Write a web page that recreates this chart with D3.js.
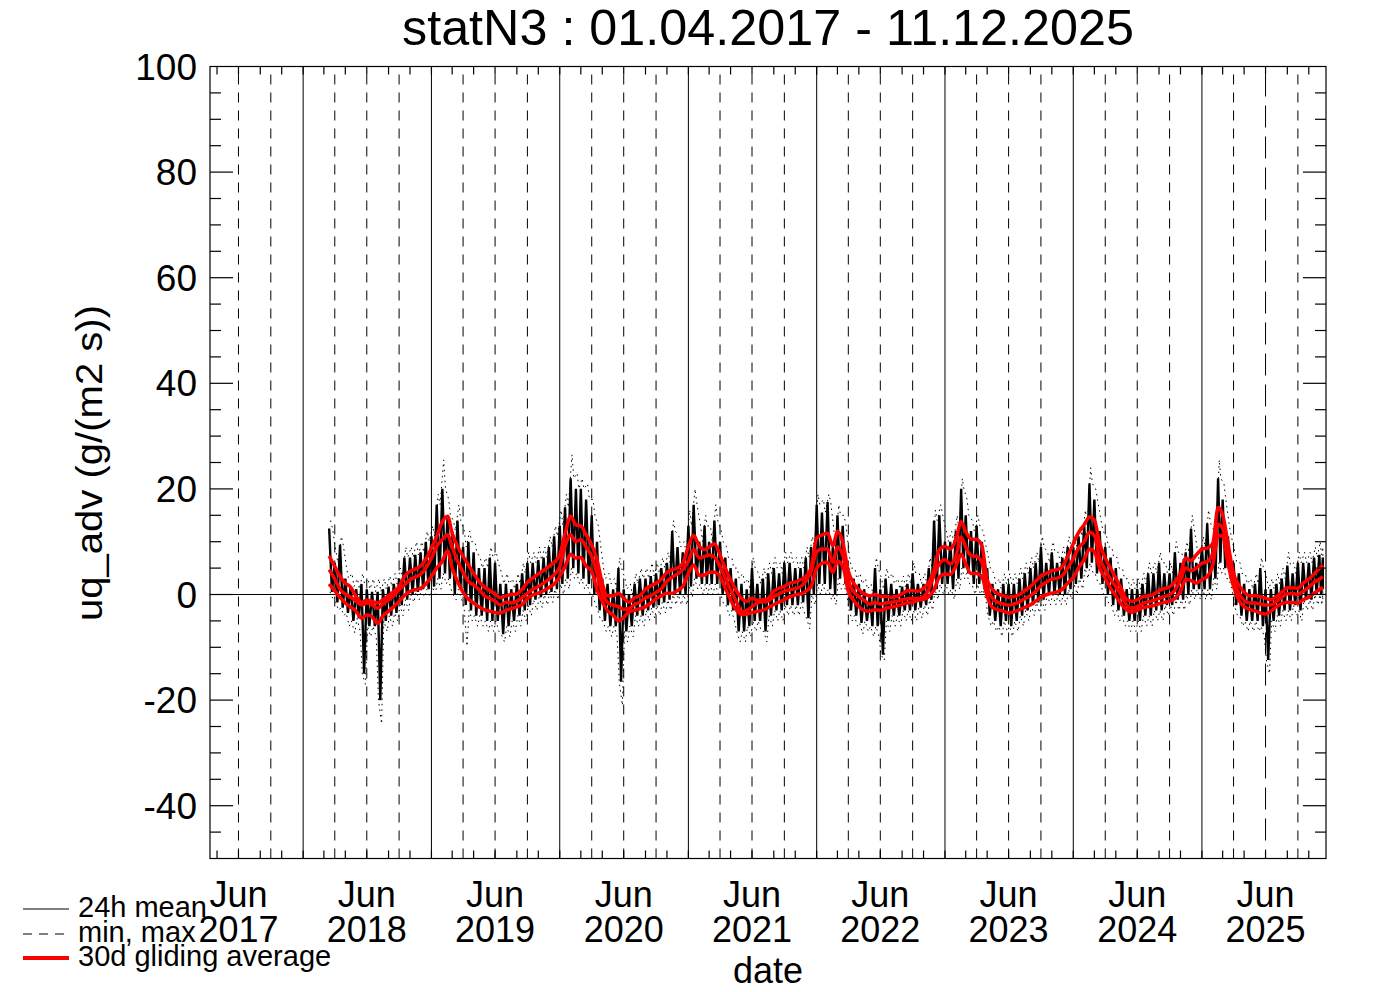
<!DOCTYPE html>
<html><head><meta charset="utf-8">
<script src="https://cdn.jsdelivr.net/npm/d3@7"></script>
<style>
body{margin:0;background:#fff}
svg{display:block}
text{font-family:"Liberation Sans",Arial,Helvetica,sans-serif;fill:#000}
</style>
</head><body>
<svg id="chart" width="1388" height="992"></svg>
<script>
// ---------------- data ----------------
const titleText = "statN3 : 01.04.2017 - 11.12.2025";
const yAxisLabel = "uq_adv (g/(m2 s))";
const xAxisLabel = "date";
const legendLabels = ["24h mean", "min, max", "30d gliding average"];
const labelYears = [2017, 2018, 2019, 2020, 2021, 2022, 2023, 2024, 2025];
const labelMonth = "Jun";
const yTickValues = [-40, -20, 0, 20, 40, 60, 80, 100];

// semi-monthly sampling dates: 2018-03-16, then 1st and 16th of each month, ending 2025-12-11
const sampleDates = (() => {
  const out = [new Date(Date.UTC(2018, 2, 16))];
  for (let yr = 2018; yr <= 2025; yr++) {
    for (let m = 0; m < 12; m++) {
      if (yr === 2018 && m < 3) continue;
      if (yr === 2025 && m === 11) { out.push(new Date(Date.UTC(2025, 11, 1)), new Date(Date.UTC(2025, 11, 11))); break; }
      out.push(new Date(Date.UTC(yr, m, 1)), new Date(Date.UTC(yr, m, 16)));
    }
  }
  return out;
})();

// 30d gliding average of daily max
const avgMax = [
  7.3,5.3,3.4,2.15,1.4,-0.4,-1.5,-1.1,-1.3,-1.6,-1.0,-0.25,0.6,1.5,3.4,4.4,4.8,5.4,6.7,
  8.8,11.0,13.8,14.8,11.6,9.2,7.2,5.6,4.0,2.5,1.4,0.76,0.1,-0.6,-0.25,0.0,0.1,1.0,2.3,3.1,3.9,4.55,5.3,6.1,
  7.5,11.5,14.8,13.2,13.0,11.3,9.4,6.6,2.15,-0.25,-0.25,0.25,-0.7,-1.45,-0.6,-0.25,1.0,1.65,2.15,2.9,4.2,4.7,5.0,5.9,
  9.1,11.2,9.1,8.5,9.0,9.6,7.5,5.0,2.8,0.9,-0.7,-1.3,-0.7,-1.1,-1.0,-0.75,0.6,1.2,1.5,2.15,2.35,2.8,3.4,5.0,
  10.7,11.3,11.6,9.2,12.0,10.0,4.4,2.15,0.9,0.13,-0.25,0.0,-0.4,-0.4,-0.5,-0.4,0.13,0.7,0.76,0.6,1.2,2.3,4.7,8.5,
  9.1,8.6,10.4,13.8,11.9,10.5,10.4,9.2,2.8,1.0,0.13,-0.25,-0.5,-0.4,0.0,0.76,1.5,2.5,3.5,4.0,4.5,4.7,5.3,7.2,
  9.6,11.7,13.2,14.7,14.1,9.7,6.9,5.0,3.1,1.2,-0.9,-1.3,-1.0,-0.45,-0.25,0.0,0.76,1.1,1.45,2.4,4.0,6.9,6.4,7.5,
  8.6,8.8,9.7,16.5,15.1,9.7,4.0,1.8,0.5,-0.25,-0.25,-0.4,-0.7,-1.0,-0.4,0.4,1.3,1.3,1.2,2.15,2.9,3.9,4.9,5.6
];
// 30d gliding average of 24h mean
const avgMean = [
  4.7,2.9,1.0,0.07,-0.5,-1.3,-2.0,-1.6,-1.95,-2.6,-1.8,-1.0,-0.25,0.9,1.8,2.8,3.3,3.8,5.0,
  6.9,9.1,10.4,11.3,9.0,6.4,4.2,2.5,1.8,1.0,-0.25,-0.75,-1.25,-2.0,-1.45,-1.6,-1.3,-0.6,0.25,1.0,1.5,2.15,2.9,3.7,
  5.3,9.1,11.3,10.0,10.4,9.0,7.2,4.0,0.25,-1.5,-2.0,-2.3,-2.8,-2.65,-1.9,-1.4,-0.6,-0.25,0.4,1.1,2.5,3.3,3.9,4.7,
  6.3,8.5,6.9,7.2,7.5,7.1,5.3,3.1,0.9,-1.1,-3.2,-3.0,-2.3,-1.6,-1.4,-1.25,-0.4,0.13,0.6,0.9,1.1,1.5,2.5,4.4,
  8.1,8.6,8.6,6.1,9.0,7.5,2.5,0.6,-0.4,-1.1,-1.8,-1.5,-1.8,-1.6,-1.5,-1.3,-1.0,-0.8,-0.75,-0.8,-0.4,1.0,3.7,5.8,
  6.6,5.8,7.2,10.9,9.0,7.4,7.2,6.1,1.2,-0.7,-1.5,-1.8,-2.0,-1.8,-1.4,-0.75,-0.25,0.6,1.65,2.3,2.9,3.1,3.6,5.0,
  6.8,8.8,10.0,11.8,11.2,6.9,4.7,2.9,1.5,-0.1,-2.0,-2.6,-2.3,-1.7,-1.4,-1.1,-0.75,-0.4,-0.05,0.8,2.8,5.0,4.5,5.0,
  5.9,6.2,7.8,13.3,12.6,7.2,2.8,0.25,-1.1,-1.6,-1.6,-1.8,-2.0,-2.0,-1.3,-0.55,0.13,0.2,0.0,0.6,1.4,2.3,2.9,3.4
];
// 30d gliding average of daily min
const avgMin = [
  2.0,0.7,-0.55,-1.6,-2.4,-3.2,-4.5,-3.9,-4.2,-5.5,-4.0,-3.15,-2.3,-1.3,-0.2,0.6,0.9,1.15,2.0,
  3.4,5.0,6.3,8.3,5.0,2.5,0.4,-0.9,-1.6,-2.3,-2.9,-3.15,-3.4,-3.5,-3.0,-2.7,-2.3,-1.9,-0.75,-0.1,0.25,0.7,1.3,2.0,
  3.4,5.3,7.6,6.9,7.0,5.4,4.4,0.9,-1.3,-3.1,-3.9,-5.0,-4.35,-3.3,-3.0,-2.7,-2.3,-1.6,-0.8,-0.25,0.25,0.25,0.76,1.5,
  4.0,5.6,3.6,3.7,4.2,4.2,3.4,1.2,-1.0,-2.8,-3.8,-3.7,-3.4,-3.2,-3.0,-2.5,-1.9,-1.45,-1.0,-0.45,-0.1,0.13,0.6,1.5,
  5.0,5.9,6.1,4.2,6.3,5.4,0.6,-1.1,-2.3,-3.0,-3.15,-2.9,-3.0,-2.65,-2.4,-2.2,-1.9,-1.6,-1.5,-1.1,-0.9,-0.4,0.9,3.3,
  3.9,3.8,5.4,7.6,5.8,4.0,4.0,3.4,-0.4,-2.45,-2.9,-3.15,-3.5,-3.3,-2.9,-2.45,-1.95,-1.25,-0.5,-0.05,0.25,0.5,1.0,2.15,
  3.2,5.05,6.6,8.6,8.1,5.0,3.1,1.2,-0.25,-1.8,-2.9,-3.35,-3.0,-2.5,-2.3,-2.1,-1.75,-1.5,-1.25,-0.75,0.6,2.9,2.65,2.2,
  2.8,3.4,5.6,11.2,11.0,5.9,1.5,-1.1,-2.3,-2.8,-3.1,-3.5,-3.7,-3.15,-2.3,-1.75,-1.45,-1.5,-1.65,-1.0,-0.5,0.25,0.9,1.4
];
// 24h mean: highest and lowest daily value within each half month
const meanHigh = [
  12.5,6,9.4,3,1.5,1,2,1,0.5,0.5,1,1.5,2,3,7,7,7.5,8,10,
  11,17,20,15,12,14,9,10,8,5,5,7,6,2,2,1,2,4,6,6,6.5,7,9,11,
  13,16.5,22,20,20,18,15,10,3,2,1,5,1,0,2,3,3,3.5,4,5,6,12,9,8,
  13,17,10,13,10,14,10,7,5,3,2,1,5,2,3,4,5,4,6,6,5,5,7,9,
  17,15.5,17.5,9,15,13,5,3,2,1,0,5,1,3,2,1,1.5,2,4,2,2,5,14,15,
  10,10,12,20,15,12,13,10,5,2,1,2,2,2,3,4,5,6,9,6,8,6,7,9,
  9,11,13,21,18,12,9,7,5,3,1,1,1,2,4,4,6,4,4,8,6,8,12.5,6,
  9,13.5,10,22,18,11,6,4,2,1,2,5,1,1,2,3,5.5,4,6,6,6,7,7.5,7
];
const meanLow = [
  0.5,-1.5,-2.5,-3.5,-5,-4.5,-15,-6,-6,-20,-5,-4,-3.5,-2,-1,0,0.5,1,1,
  1.5,3,4,3,0,1,-2,-3,-4,-4,-5,-5,-5,-7.5,-6,-5,-4,-3,-2,-1,-0.5,0,0.5,1,
  2,3,5,4,3,2,0,-3,-5,-6,-6,-16.5,-7,-6,-4,-4,-3,-2.5,-2,-1.5,-1,0,0,0,
  1.5,3,2,2,2,2,0,-2,-3,-7,-7,-6,-5,-5,-7,-4,-3,-3,-2,-2,-2,-1.5,-4.5,0,
  2,2,1,0,3,2,-3,-4,-5.4,-5,-6,-6,-11.4,-5,-4,-4,-3,-3,-3,-2.5,-2,-1,1,2,
  2,1,3,5,4,2,2,1,-4,-5,-6,-5,-6,-5,-4,-3,-2,-1.5,-1,0,0,0,0,1,
  2,3,5,6,4,2,0,-2,-3,-4,-5,-5,-5,-4,-4,-3,-3,-2,-2,-1,-1,0,1,1,
  1,1,3,6,5,3,-2,-4,-5,-5,-5,-6,-12.4,-5,-4,-3,-3,-2,-3,-1,-1,0,0,1
];
// daily max: highest value within each half month
const maxTop = [
  14,8,11,5,4,3,4,3,3,3,3,3.5,4,5,9,9,10,10,12,
  13,19,25.5,18,14,17,12,12,10,7,7,9,8,4,4,3,4,6,8,8,9,9,11,13,
  16,19,26.5,23,22,21,18,13,5,4,3,7,3,2,4,5,5,6,6,7,8,14,11,10,
  16,20,13,15,13,17,12,9,7,5,4,3,7,4,5,6,7,6,8,8,7,7,9,11,
  19,18,19,12,17,15,7,5,4,3,2,7,3,5,4,3,3.5,4,6,4,4,7,16,17,
  12,12,15,22,18,14,15,12,7,4,3,4,4,4,5,6,7,8,11,8,10,8,9,11,
  11,13,16,24,20,14,11,9,7,5,3,3,3,4,6,6,8,6,6,10,8,10,15,8,
  11,16,12,25.5,21,13,8,6,4,3,4,7,3,3,4,5,8,6,8,8,8,9,10,9
];
// daily min: lowest value within each half month
const minBottom = [
  -1,-3,-4,-6,-7.3,-7,-17,-8,-8,-24.5,-7,-6,-5,-4,-3,-1.5,-1,-0.5,-0.5,
  0,1,2,1,-1,-1,-9.8,-5,-6,-6,-7,-7,-7,-9,-8,-7,-6,-5,-4,-3,-2.5,-2,-1.5,-1,
  0,1,3,2,1,0,-2,-5,-7,-8,-8,-21,-9,-8,-6,-6,-5,-4.5,-4,-3.5,-3,-2,-2,-2,
  -0.5,1,0,0,0,0,-2,-4,-5,-9,-9,-8,-7,-7,-9,-6,-5,-5,-4,-4,-4,-3.5,-6.5,-2,
  0,0,-1,-2,1,0,-5,-6,-7.5,-7,-8,-8,-12.5,-7,-6,-6,-5,-5,-5,-4.5,-4,-3,-1,0,
  0,-1,1,3,2,0,0,-1,-6,-7,-8,-7,-8,-7,-6,-5,-4,-3.5,-3,-2,-2,-2,-2,-1,
  0,1,3,4,2,0,-2,-4,-5,-6,-7,-7,-7,-6,-6,-5,-5,-4,-4,-3,-3,-2,-1,-1,
  -1,-1,1,4,3,1,-4,-6,-7,-7,-7,-8,-15,-7,-6,-5,-5,-4,-5,-3,-3,-2,-2,-1
];

// ---------------- layout ----------------
const L = 210, R = 1326, T = 66.5, B = 858.5;
const svg = d3.select("#chart");
svg.append("rect").attr("width", 1388).attr("height", 992).attr("fill", "#fff");

const x = d3.scaleUtc()
  .domain([new Date(Date.UTC(2017, 3, 11)), new Date(Date.UTC(2025, 11, 20))])
  .range([L, R]);
const y = d3.scaleLinear().domain([-50, 100]).range([B, T]);

svg.append("defs").append("clipPath").attr("id", "plotclip")
  .append("rect").attr("x", L).attr("y", T).attr("width", R - L).attr("height", B - T);

// vertical date lines: Jan solid, Apr/Jul/Oct dashed
const grid = svg.append("g");
for (let yr = 2017; yr <= 2025; yr++) {
  for (const m of [0, 3, 6, 9]) {
    const d = new Date(Date.UTC(yr, m, 1));
    const px = x(d);
    if (px <= L + 1 || px >= R - 1) continue;
    const ln = grid.append("line")
      .attr("x1", px).attr("x2", px).attr("y1", T).attr("y2", B)
      .attr("stroke", "#000").attr("stroke-width", 1);
    if (m !== 0) ln.attr("stroke-dasharray", (yr === 2025 && m === 6) ? "22,9" : "10,8")
                   .attr("stroke-dashoffset", -8);
  }
}
// zero line
svg.append("line").attr("x1", L).attr("x2", R).attr("y1", y(0)).attr("y2", y(0))
  .attr("stroke", "#000").attr("stroke-width", 1);

// ---------------- data series ----------------
const n = Math.min(sampleDates.length, avgMax.length, avgMean.length, avgMin.length,
                   meanHigh.length, meanLow.length, maxTop.length, minBottom.length);
const at = (i, f) => {
  const a = +sampleDates[i];
  const b = i < n - 1 ? +sampleDates[i + 1] : a;
  return new Date(a + (b - a) * f);
};
const dataG = svg.append("g").attr("clip-path", "url(#plotclip)");
const lineGen = d3.line().x(p => x(p[0])).y(p => y(p[1]));

const meanPts = [], maxPts = [], minPts = [];
for (let i = 0; i < n; i++) {
  meanPts.push([at(i, 0), meanHigh[i]], [at(i, 0.5), meanLow[i]]);
  maxPts.push([at(i, 0.25), maxTop[i]], [at(i, 0.6), meanHigh[i]]);
  minPts.push([at(i, 0.15), meanLow[i]], [at(i, 0.75), minBottom[i]]);
}
dataG.append("path").attr("d", lineGen(maxPts)).attr("fill", "none")
  .attr("stroke", "#000").attr("stroke-width", 1).attr("stroke-dasharray", "1.5,4");
dataG.append("path").attr("d", lineGen(minPts)).attr("fill", "none")
  .attr("stroke", "#000").attr("stroke-width", 1).attr("stroke-dasharray", "1.5,4");
dataG.append("path").attr("d", lineGen(meanPts)).attr("fill", "none")
  .attr("stroke", "#000").attr("stroke-width", 2.4).attr("stroke-linejoin", "miter")
  .attr("stroke-miterlimit", 2);

const smooth = d3.line().x((v, i) => x(sampleDates[i])).y(v => y(v)).curve(d3.curveMonotoneX);
for (const s of [avgMax, avgMean, avgMin]) {
  dataG.append("path").attr("d", smooth(s.slice(0, n))).attr("fill", "none")
    .attr("stroke", "#ff0000").attr("stroke-width", 3.5).attr("stroke-linejoin", "round");
}

// ---------------- frame & ticks ----------------
svg.append("rect").attr("x", L).attr("y", T).attr("width", R - L).attr("height", B - T)
  .attr("fill", "none").attr("stroke", "#000").attr("stroke-width", 1.2);

const ticks = svg.append("g").attr("stroke", "#000").attr("stroke-width", 1.2);
for (let yr = 2017; yr <= 2025; yr++) {
  for (const m of [0, 2, 4, 6, 8, 10]) {
    const px = x(new Date(Date.UTC(yr, m, 1)));
    if (px <= L + 1 || px >= R - 1) continue;
    ticks.append("line").attr("x1", px).attr("x2", px).attr("y1", T).attr("y2", T + 8);
    ticks.append("line").attr("x1", px).attr("x2", px).attr("y1", B).attr("y2", B - 8);
  }
}
for (const v of d3.range(-45, 100, 5)) {
  const len = (v % 20 === 0) ? 23 : 11;
  ticks.append("line").attr("x1", L).attr("x2", L + len).attr("y1", y(v)).attr("y2", y(v));
  ticks.append("line").attr("x1", R - len).attr("x2", R).attr("y1", y(v)).attr("y2", y(v));
}

// ---------------- text ----------------
svg.append("g").selectAll("text").data(yTickValues).join("text")
  .attr("x", 197).attr("y", d => y(d) + 13).attr("text-anchor", "end")
  .attr("font-size", 37).text(d => d);

const xl = svg.append("g");
labelYears.forEach(yr => {
  const cx = x(new Date(Date.UTC(yr, 6, 1)));
  xl.append("text").attr("x", cx).attr("y", 907).attr("text-anchor", "middle").attr("font-size", 36).text(labelMonth);
  xl.append("text").attr("x", cx).attr("y", 942).attr("text-anchor", "middle").attr("font-size", 36).text(yr);
});

svg.append("text").attr("x", 768).attr("y", 983).attr("text-anchor", "middle")
  .attr("font-size", 36).text(xAxisLabel);
svg.append("text").attr("x", 768).attr("y", 45).attr("text-anchor", "middle")
  .attr("font-size", 50).attr("textLength", 732).attr("lengthAdjust", "spacingAndGlyphs").text(titleText);
svg.append("text").attr("transform", "translate(102,463) rotate(-90)")
  .attr("text-anchor", "middle").attr("font-size", 37)
  .attr("textLength", 316).attr("lengthAdjust", "spacingAndGlyphs").text(yAxisLabel);

// legend
const lg = svg.append("g");
const legRows = [
  {y: 909, dash: null, color: "#000", w: 1.2},
  {y: 934, dash: "9,7", color: "#000", w: 1.2},
  {y: 958, dash: null, color: "#ff0000", w: 4}
];
legRows.forEach((r, i) => {
  const ln = lg.append("line").attr("x1", 23).attr("x2", 69).attr("y1", r.y).attr("y2", r.y)
    .attr("stroke", r.color).attr("stroke-width", r.w);
  if (r.dash) ln.attr("stroke-dasharray", r.dash);
  lg.append("text").attr("x", 78).attr("y", r.y + 8).attr("font-size", 29).text(legendLabels[i]);
});
</script>
</body></html>
